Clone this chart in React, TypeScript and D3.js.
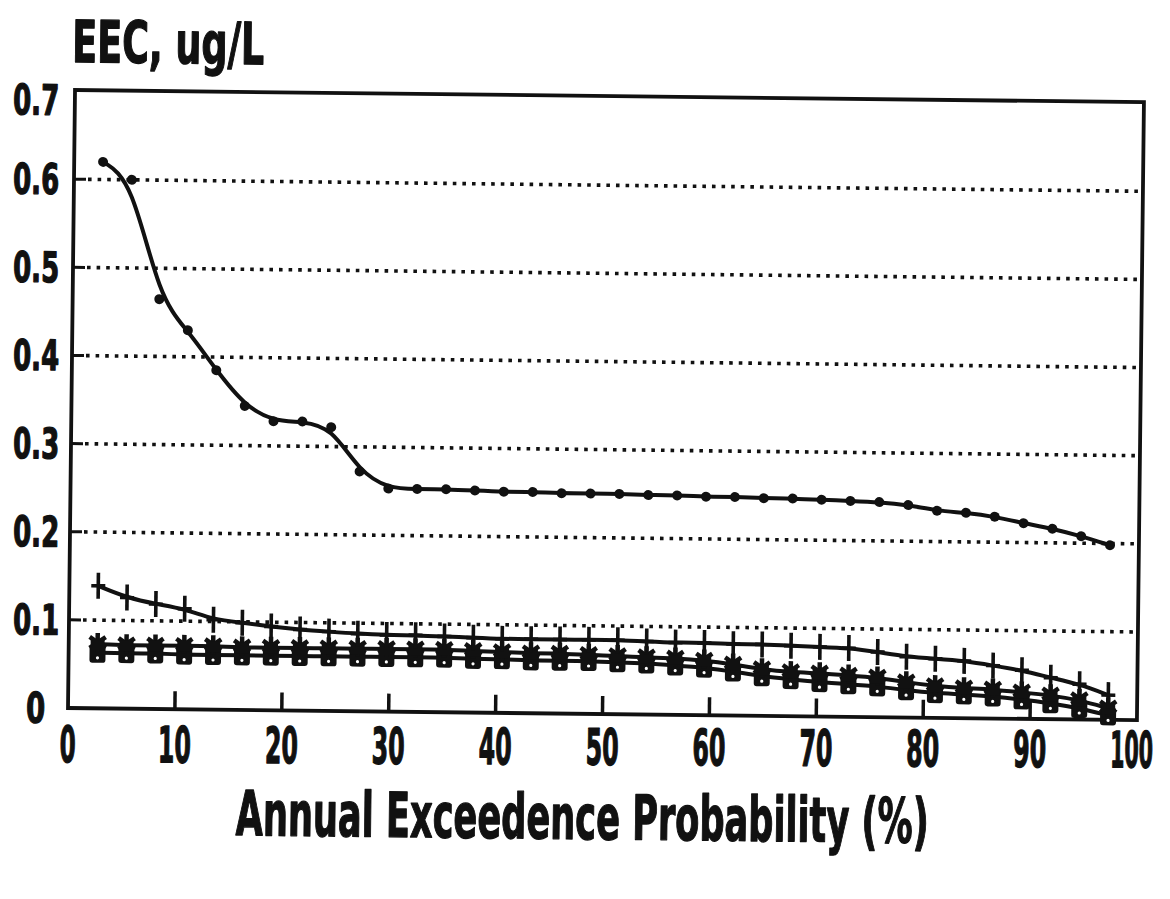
import React, { useLayoutEffect, useRef, useState } from "react";
import * as d3 from "d3";

const probability: number[] = Array.from({ length: 36 }, (_, i) => ((i + 1) * 100) / 37);

const circleSeries = [
  0.62, 0.60, 0.465, 0.43, 0.385, 0.345, 0.328, 0.328, 0.322, 0.272, 0.253, 0.253,
  0.253, 0.252, 0.251, 0.251, 0.25, 0.25, 0.25, 0.249, 0.249, 0.248, 0.248, 0.247,
  0.247, 0.246, 0.245, 0.244, 0.241, 0.235, 0.233, 0.229, 0.222, 0.216, 0.208, 0.198,
];
const plusSeries = [
  0.139, 0.126, 0.119, 0.114, 0.102, 0.099, 0.095, 0.092, 0.09, 0.088, 0.087, 0.087,
  0.086, 0.085, 0.084, 0.084, 0.084, 0.084, 0.084, 0.083, 0.082, 0.082, 0.081, 0.081,
  0.08, 0.079, 0.078, 0.074, 0.069, 0.067, 0.065, 0.06, 0.055, 0.047, 0.04, 0.028,
];
const starSeries = [
  0.073, 0.072, 0.072, 0.072, 0.072, 0.071, 0.071, 0.071, 0.071, 0.071, 0.071, 0.071,
  0.071, 0.07, 0.069, 0.068, 0.068, 0.067, 0.066, 0.065, 0.064, 0.062, 0.058, 0.053,
  0.05, 0.049, 0.047, 0.045, 0.04, 0.036, 0.034, 0.033, 0.03, 0.027, 0.022, 0.013,
];
const squareSeries = [
  0.063, 0.063, 0.063, 0.062, 0.062, 0.062, 0.062, 0.062, 0.062, 0.062, 0.062, 0.062,
  0.062, 0.061, 0.061, 0.06, 0.06, 0.06, 0.059, 0.058, 0.056, 0.054, 0.05, 0.045,
  0.042, 0.039, 0.037, 0.035, 0.031, 0.028, 0.027, 0.025, 0.022, 0.018, 0.013, 0.005,
];

const xTicks = [0, 10, 20, 30, 40, 50, 60, 70, 80, 90, 100];
const yTicks = [0, 0.1, 0.2, 0.3, 0.4, 0.5, 0.6, 0.7];
const gridValues = [0.1, 0.2, 0.3, 0.4, 0.5, 0.6];

const FONT = "'Liberation Sans Narrow', 'DejaVu Sans Condensed', 'Liberation Sans', sans-serif";
const INK = "#111";
const TILT = 0.65;
const SLOPE = Math.tan((TILT * Math.PI) / 180);

function FitText(props: { x: number; y: number; width: number; size: number; anchor?: string; text: string; weight?: number }) {
  const ref = useRef<SVGTextElement>(null);
  const [s, setS] = useState(0.6);
  useLayoutEffect(() => {
    if (ref.current) {
      const len = ref.current.getComputedTextLength();
      if (len > 0) setS(props.width / len);
    }
  }, [props.text, props.width, props.size]);
  return (
    <text ref={ref} transform={`translate(${props.x},${props.y}) scale(${s},1)`} textAnchor={props.anchor || "start"}
      fontFamily={FONT} fontWeight="bold" fontSize={props.size} fill={INK} stroke={INK} strokeWidth={props.weight ?? 1.3}
      strokeLinejoin="round">
      {props.text}
    </text>
  );
}

export default function App() {
  const left = 68, right = 1137, top = 90, bottom = 708;
  const x = d3.scaleLinear().domain([0, 100]).range([left, right]);
  const y = d3.scaleLinear().domain([0, 0.7]).range([bottom, top + 1]);
  const line = (vals: number[]) =>
    d3.line<number>().x((_, i) => x(probability[i])).y((v) => y(v)).curve(d3.curveBasis)(vals) || "";

  return (
    <svg width={1170} height={899} style={{ display: "block", position: "absolute", left: 0, top: 0, background: "#fff" }}>
      <rect x={0} y={0} width={1170} height={899} fill="#fff" />
      <g transform={`rotate(${TILT} ${left} ${bottom})`}>
        {gridValues.map((g) => (
          <line key={g} x1={left + 14} x2={right - 4} y1={y(g)} y2={y(g)} stroke={INK} strokeWidth={3.6} strokeDasharray="3.6 6" />
        ))}
        {yTicks.filter((t) => t > 0 && t < 0.7).map((t) => (
          <line key={t} x1={left} x2={left + 12} y1={y(t)} y2={y(t)} stroke={INK} strokeWidth={3} />
        ))}
        {xTicks.filter((t) => t > 0 && t < 100).map((t) => (
          <line key={t} x1={x(t)} x2={x(t)} y1={bottom} y2={bottom - 18} stroke={INK} strokeWidth={3.5} />
        ))}
        <rect x={left} y={top} width={right - left} height={bottom - top} fill="none" stroke={INK} strokeWidth={3.8} />

        <path d={line(squareSeries)} fill="none" stroke={INK} strokeWidth={4} />
        {squareSeries.map((v, i) => (
          <g key={"s" + i} transform={`translate(${x(probability[i])},${y(v)})`}>
            <rect x={-8} y={-8} width={16} height={18} rx={3} fill={INK} />
            <circle cx={0} cy={5} r={1.6} fill="#fff" />
          </g>
        ))}
        <path d={line(starSeries)} fill="none" stroke={INK} strokeWidth={4} />
        {starSeries.map((v, i) => (
          <g key={"a" + i} transform={`translate(${x(probability[i])},${y(v)})`} stroke={INK} strokeWidth={4.5}>
            <line x1={0} y1={-11} x2={0} y2={8} />
            <line x1={-8} y1={-7} x2={8} y2={4} />
            <line x1={8} y1={-7} x2={-8} y2={4} />
            <rect x={-7} y={-5} width={14} height={11} fill={INK} stroke="none" />
          </g>
        ))}
        <path d={line(plusSeries)} fill="none" stroke={INK} strokeWidth={4} />
        {plusSeries.map((v, i) => (
          <g key={"p" + i} transform={`translate(${x(probability[i])},${y(v)})`} stroke={INK} strokeWidth={3.6}>
            <line x1={0} y1={-13} x2={0} y2={13} />
            <line x1={-7} y1={0} x2={7} y2={0} />
          </g>
        ))}
        <path d={line(circleSeries)} fill="none" stroke={INK} strokeWidth={4} />
        {circleSeries.map((v, i) => (
          <circle key={"c" + i} cx={x(probability[i])} cy={y(v)} r={5} fill={INK} />
        ))}

        {yTicks.map((t) => {
          const yy = t === 0.7 ? y(t) + 24 : y(t) + 15;
          const xx = (t === 0 ? 45 : 59) - (bottom - yy) * SLOPE;
          return (
            <FitText key={"yl" + t} x={xx} y={yy} anchor="end"
              size={42} width={t === 0 ? 19 : 46} text={t === 0 ? "0" : t.toFixed(1)} />
          );
        })}
        {xTicks.map((t) => (
          <FitText key={"xl" + t} x={x(t) - (t === 100 ? 5 : 0)} y={762 - (x(t) - left) * SLOPE * 0.55} anchor="middle" size={50}
            width={t === 0 ? 16 : t === 100 ? 43 : 33} text={String(t)} />
        ))}
        <FitText x={72 - (bottom - 62) * SLOPE} y={62} size={58} width={192} text="EEC, ug/L" />
        <FitText x={237} y={836 - 250 * SLOPE} size={62} width={693} text="Annual Exceedence Probability (%)" />
      </g>
    </svg>
  );
}
